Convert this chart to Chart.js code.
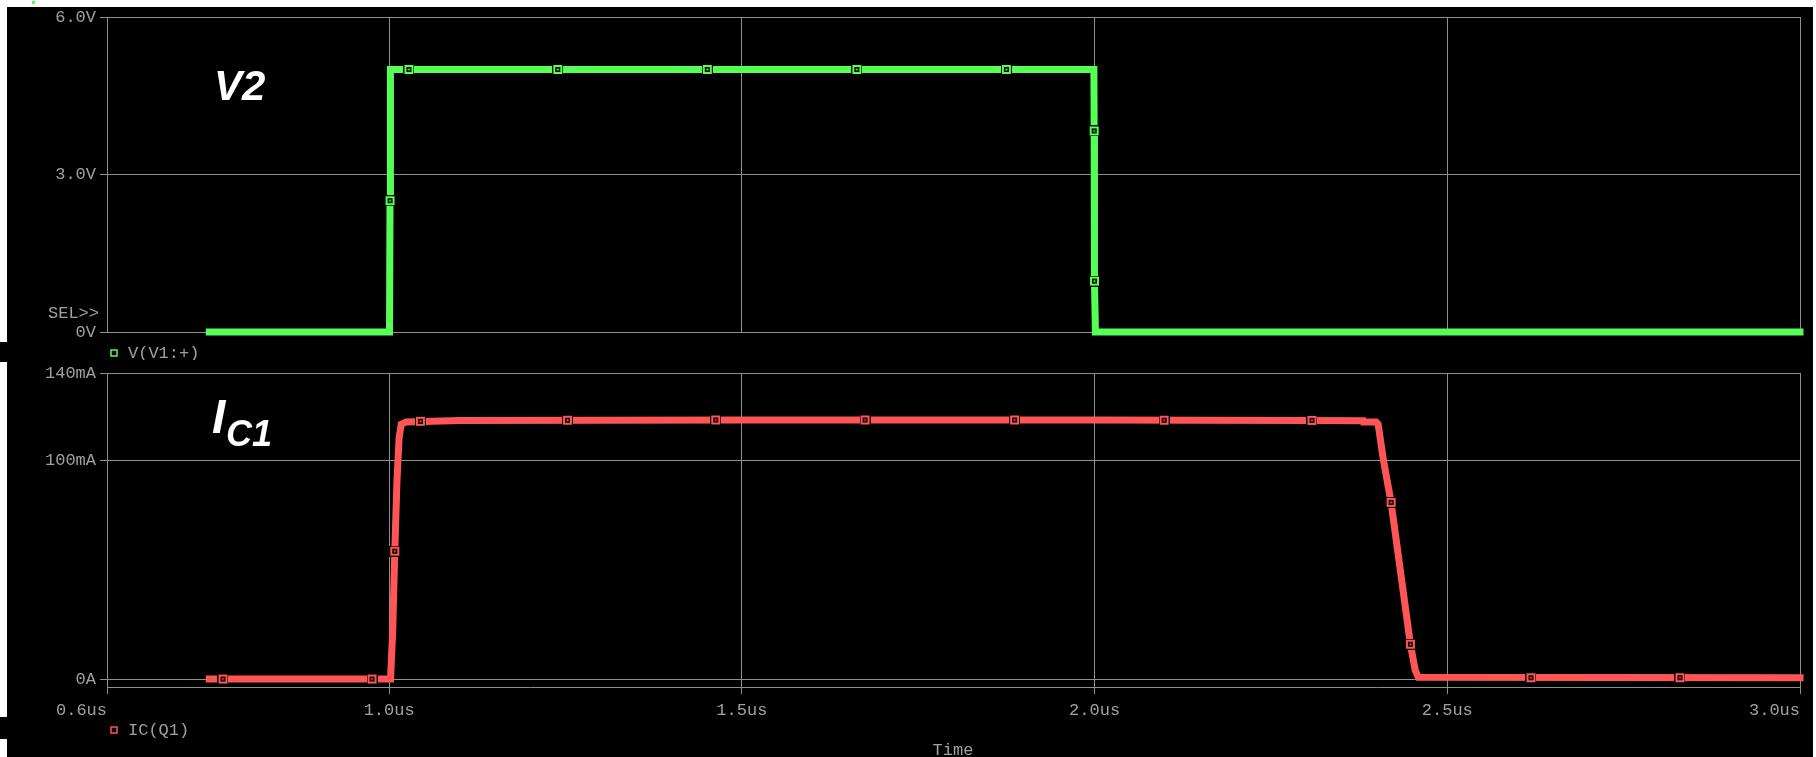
<!DOCTYPE html>
<html>
<head>
<meta charset="utf-8">
<script src="https://cdn.jsdelivr.net/npm/chart.js@4.4.1/dist/chart.umd.min.js"></script>
<style>
  html, body { margin: 0; padding: 0; background: #fff; }
  body { width: 1816px; height: 757px; position: relative; overflow: hidden; }
  #bg { position: absolute; left: 7px; top: 7px; width: 1806px; height: 750px; background: #000; }
  .strip { position: absolute; left: 0; width: 8px; background: #000; }
  #dot { position: absolute; left: 32px; top: 1px; width: 3px; height: 3px; background: #55ff55; }
  canvas { position: absolute; left: 0; }
  #top { top: 0; }
  #bottom { top: 360px; }
</style>
</head>
<body>
<div id="bg"></div>
<div class="strip" style="top:342px;height:20px"></div>
<div class="strip" style="top:717px;height:22px"></div>
<div id="dot"></div>
<canvas id="top" width="1816" height="360"></canvas>
<canvas id="bottom" width="1816" height="397"></canvas>
<script>
// time axis, in us
const xTicks = [0.6, 1.0, 1.5, 2.0, 2.5, 3.0];
const xTickLabels = ['0.6us', '1.0us', '1.5us', '2.0us', '2.5us', '3.0us'];

// V(V1:+), volts
const v2Time  = [0.745, 1.0005, 1.0012, 1.0018, 1.9990, 1.9994, 1.9998, 2.0012, 3.0];
const v2Volts = [0, 0, 2.5, 5, 5, 3.83, 0.97, 0, 0];
const v2MarkTime  = [1.0012, 1.028, 1.239, 1.451, 1.663, 1.875, 1.9994, 1.9998];
const v2MarkVolts = [2.5, 5, 5, 5, 5, 5, 3.83, 0.97];
const vTicks = [0, 3, 6];
const vTickLabels = ['0V', '3.0V', '6.0V'];

// IC(Q1), mA
const icTime = [0.745, 1.002, 1.005, 1.008, 1.011, 1.014, 1.017, 1.024, 1.1, 1.5, 2.0, 2.3, 2.3805,
                2.381, 2.399, 2.402, 2.4094, 2.4203, 2.4477, 2.4545, 2.459, 3.0];
const icAmps = [0, 0, 22, 58.5, 90, 110, 116.5, 117.6, 118.3, 118.5, 118.5, 118.3, 118.2,
                117.6, 117.6, 116.5, 100.2, 80.8, 15.9, 4, 0.8, 0.6];
const icMarkTime = [0.7644, 0.9757, 1.008, 1.0443, 1.2528, 1.4629, 1.6746, 1.8865, 2.0985, 2.3082,
                    2.4203, 2.4477, 2.6186, 2.8298];
const icMarkAmps = [0, 0, 58.5, 117.9, 118.4, 118.5, 118.5, 118.5, 118.4, 118.3, 80.8, 15.9, 0.6, 0.6];
const iTicks = [0, 100, 140];
const iTickLabels = ['0A', '100mA', '140mA'];

const GREEN = '#55ff55';
const RED = '#ff5555';
const GRID = '#8e8e8e';
const TEXT = '#a0a0a0';
const MONO = "'Liberation Mono', 'Courier New', monospace";
const SANS = "'Liberation Sans', Arial, sans-serif";

function pts(xs, ys) {
    return xs.map(function (x, i) { return { x: x, y: ys[i] }; });
}

// little PSpice style trace marker
function markImage(color) {
    const c = document.createElement('canvas');
    c.width = 11; c.height = 11;
    const g = c.getContext('2d');
    g.fillStyle = '#000'; g.fillRect(0, 0, 11, 11);
    g.fillStyle = color; g.fillRect(1, 1, 9, 9);
    g.fillStyle = '#000'; g.fillRect(3, 3, 5, 5);
    g.fillStyle = color; g.fillRect(4.5, 4.5, 2, 2);
    return c;
}

function traceSets(time, vals, mTime, mVals, color) {
    return [
        {
            data: pts(mTime, mVals),
            showLine: false,
            pointStyle: markImage(color),
            pointRadius: 5,
            clip: false,
            order: 0
        },
        {
            data: pts(time, vals),
            borderColor: color,
            borderWidth: 7,
            borderJoinStyle: 'miter',
            borderCapStyle: 'square',
            pointRadius: 0,
            tension: 0,
            clip: false,
            order: 1
        }
    ];
}

function legend(ctx, y, color, text) {
    ctx.strokeStyle = color;
    ctx.lineWidth = 1.5;
    ctx.strokeRect(111, y - 3, 6, 6);
    ctx.fillStyle = TEXT;
    ctx.font = '17px ' + MONO;
    ctx.textAlign = 'left';
    ctx.textBaseline = 'middle';
    ctx.fillText(text, 128, y);
}

function xScale(showLabels) {
    return {
        type: 'linear',
        min: 0.6,
        max: 3.0,
        afterBuildTicks: function (s) { s.ticks = xTicks.map(function (v) { return { value: v }; }); },
        ticks: {
            display: showLabels,
            color: TEXT,
            font: { family: MONO, size: 17 },
            padding: 6,
            maxRotation: 0,
            autoSkip: false,
            callback: function (v, i) {
                const t = xTickLabels[i];
                // first and last labels sit to the left of their tick
                if (i === 0 || i === xTickLabels.length - 1) return t + ' '.repeat(t.length);
                return t;
            }
        },
        grid: { color: GRID, lineWidth: 1, drawTicks: showLabels, tickLength: 7 },
        border: { display: showLabels, color: GRID, width: 1 },
        afterFit: function (s) {
            s.height = showLabels ? 70 : 0;
            s.paddingLeft = 0;
            s.paddingRight = 0;
        }
    };
}

function yScale(min, max, ticks, labels) {
    return {
        type: 'linear',
        min: min,
        max: max,
        afterBuildTicks: function (s) { s.ticks = ticks.map(function (v) { return { value: v }; }); },
        ticks: {
            color: TEXT,
            font: { family: MONO, size: 17 },
            padding: 4,
            callback: function (v, i) { return labels[i]; }
        },
        grid: { color: GRID, lineWidth: 1, drawTicks: true, tickLength: 7 },
        border: { display: true, color: GRID, width: 1 },
        afterFit: function (s) {
            s.width = 107;
            s.paddingTop = 0;
            s.paddingBottom = 0;
        }
    };
}

const common = {
    responsive: false,
    animation: false,
    devicePixelRatio: 1,
    events: [],
    plugins: { legend: { display: false }, tooltip: { enabled: false } }
};

new Chart(document.getElementById('top'), {
    type: 'line',
    data: { datasets: traceSets(v2Time, v2Volts, v2MarkTime, v2MarkVolts, GREEN) },
    options: Object.assign({}, common, {
        layout: { padding: { top: 17, right: 16, bottom: 28, left: 0 } },
        scales: { x: xScale(false), y: yScale(0, 6, vTicks, vTickLabels) }
    }),
    plugins: [{
        id: 'notesTop',
        afterDraw: function (chart) {
            const ctx = chart.ctx;
            ctx.save();
            ctx.fillStyle = TEXT;
            ctx.font = '17px ' + MONO;
            ctx.textAlign = 'right';
            ctx.textBaseline = 'middle';
            ctx.fillText('SEL>>', 99, 313);
            ctx.fillStyle = '#fff';
            ctx.font = 'italic bold 42px ' + SANS;
            ctx.textAlign = 'left';
            ctx.textBaseline = 'alphabetic';
            ctx.fillText('V2', 214, 100);
            legend(ctx, 353, GREEN, 'V(V1:+)');
            ctx.restore();
        }
    }]
});

new Chart(document.getElementById('bottom'), {
    type: 'line',
    data: { datasets: traceSets(icTime, icAmps, icMarkTime, icMarkAmps, RED) },
    options: Object.assign({}, common, {
        layout: { padding: { top: 13, right: 16, bottom: 0, left: 0 } },
        scales: { x: xScale(true), y: yScale(-3.66, 140, iTicks, iTickLabels) }
    }),
    plugins: [{
        id: 'notesBottom',
        afterDraw: function (chart) {
            const ctx = chart.ctx;
            ctx.save();
            ctx.fillStyle = '#fff';
            ctx.textAlign = 'left';
            ctx.textBaseline = 'alphabetic';
            ctx.font = 'italic bold 48px ' + SANS;
            ctx.fillText('I', 212, 73);
            ctx.font = 'italic bold 36px ' + SANS;
            ctx.fillText('C1', 226, 86);
            legend(ctx, 370, RED, 'IC(Q1)');
            ctx.fillStyle = TEXT;
            ctx.font = '17px ' + MONO;
            ctx.textAlign = 'center';
            ctx.textBaseline = 'middle';
            ctx.fillText('Time', 953, 390);
            ctx.restore();
        }
    }]
});
</script>
</body>
</html>
